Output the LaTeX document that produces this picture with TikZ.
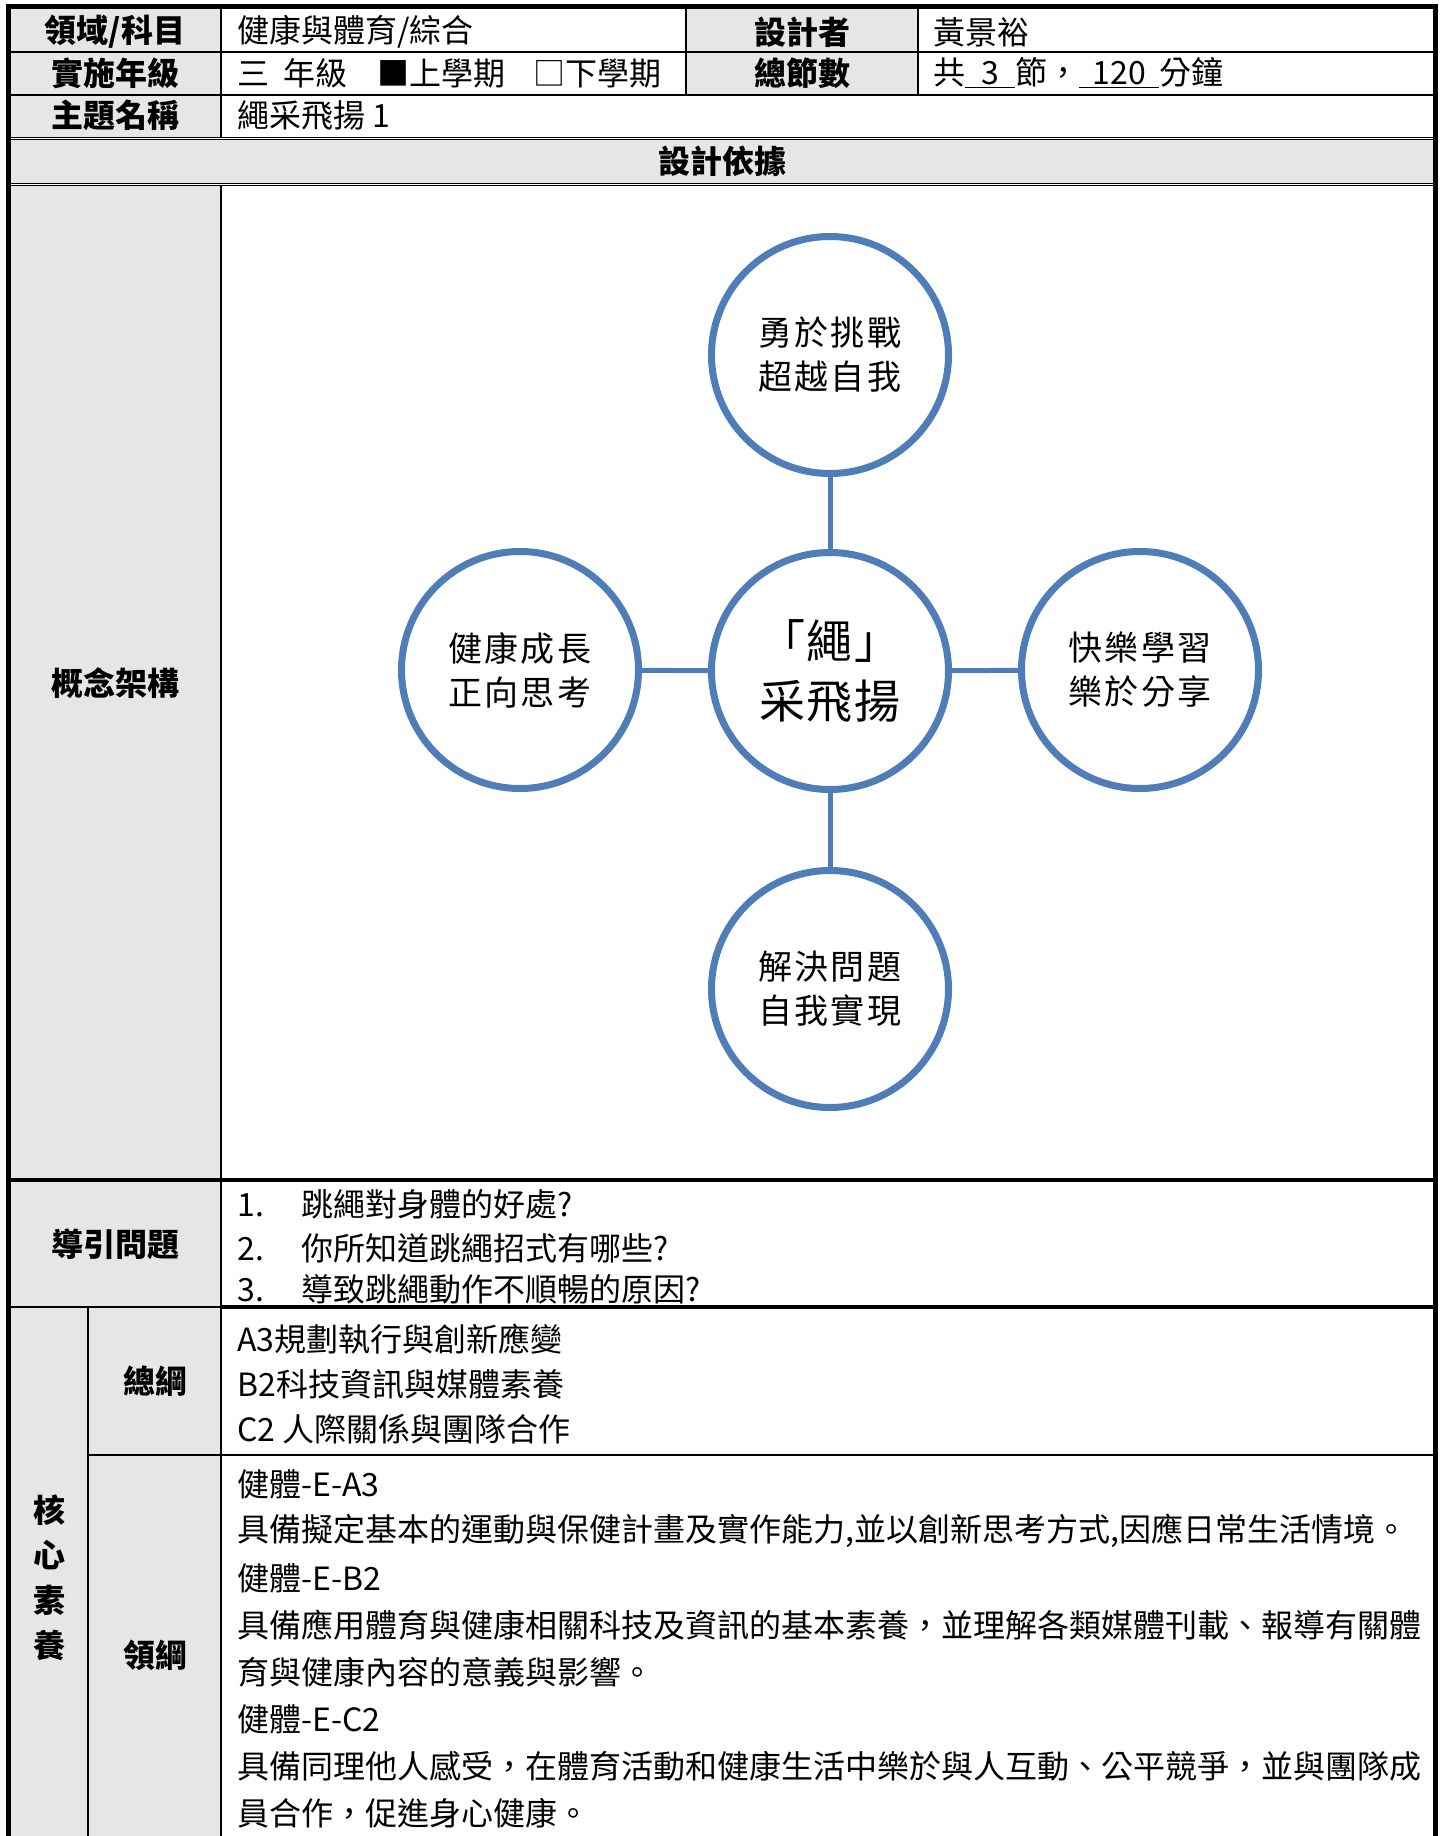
\documentclass[tikz,border=0pt]{standalone}
\usepackage{fontspec}
\setmainfont{Noto Sans CJK TC}
\usetikzlibrary{shadows}
\definecolor{cellgray}{RGB}{230,230,230}
\definecolor{ringblue}{RGB}{79,125,183}
\tikzset{
  lab/.style={font=\fontsize{16}{20}\selectfont\bfseries},
  txt/.style={anchor=west, inner sep=0pt, font=\fontsize{16}{20}\selectfont},
  ring/.style={circle, draw=ringblue, line width=3.5pt, fill=white, minimum size=118.5pt,
    inner sep=0pt, align=center, font=\fontsize{17}{22}\selectfont\addfontfeature{LetterSpace=6},
    drop shadow={shadow xshift=1.2pt, shadow yshift=-1.2pt, opacity=0.18, fill=black}},
  link/.style={draw=ringblue, line width=2.5pt},
  thin/.style={line width=0.75pt},
  thick rule/.style={line width=2.2pt},
}
\begin{document}
\begin{tikzpicture}[x=0.5pt, y=-0.5pt]
\useasboundingbox (0,0) rectangle (1443,1836);

% gray cells
\fill [cellgray] (8.5,6.5) rectangle (221,137);
\fill [cellgray] (686,6.5) rectangle (918,95);
\fill [cellgray] (8.5,139.5) rectangle (1435.5,183);
\fill [cellgray] (8.5,185.5) rectangle (221,1836);

% rules
\draw [thin] (8.5,52) -- (1435.5,52);
\draw [thin] (8.5,95) -- (1435.5,95);
\draw [line width=0.5pt] (8.5,137) -- (1435.5,137);
\draw [line width=0.5pt] (8.5,139.5) -- (1435.5,139.5);
\draw [line width=0.5pt] (8.5,183) -- (1435.5,183);
\draw [line width=0.5pt] (8.5,185.5) -- (1435.5,185.5);
\draw [thick rule] (8.5,1180) -- (1435.5,1180);
\draw [thin] (8.5,1307) -- (221,1307);
\draw [thick rule] (221,1307) -- (1435.5,1307);
\draw [thin] (88,1455) -- (1435.5,1455);
\draw [thin] (221,6.5) -- (221,137);
\draw [thin] (221,185.5) -- (221,1836);
\draw [thin] (686,6.5) -- (686,95);
\draw [thin] (918,6.5) -- (918,95);
\draw [thin] (88,1307) -- (88,1836);
\draw [line width=2.6pt] (8.5,1836) -- (8.5,6.5) -- (1435.5,6.5) -- (1435.5,1836);

% header rows
\node [lab] (subj) at (115,32) {領域/科目};
\node [txt] (subjv) at (237,32) {健康與體育/綜合};
\node [lab] (designer) at (802,32) {設計者};
\node [txt] (designerv) at (933,32) {黃景裕};
\node [lab] (grade) at (115,73) {實施年級};
\node [txt] (gradev) at (237,73) {三\hspace{7pt}年級\hspace{15pt}■上學期\hspace{14pt}□下學期};
\node [lab] (sessions) at (802,73) {總節數};
\node [txt] (sessionsv) at (933,73) {共\underline{\makebox[25pt]{3}}節，\underline{\makebox[40pt]{120}}分鐘};
\node [lab] (theme) at (115,115) {主題名稱};
\node [txt] (themev) at (237,115) {繩采飛揚 1};
\node [lab] (basis) at (722,161) {設計依據};

% concept map
\node [lab] (concept) at (115,683) {概念架構};
\node [ring, font=\fontsize{23}{30}\selectfont\addfontfeature{LetterSpace=4}] (hub) at (830,671) {「繩」\\采飛揚};
\node [ring] (up) at (830,355) {勇於挑戰\\超越自我};
\node [ring] (left) at (520,670) {健康成長\\正向思考};
\node [ring] (right) at (1140,670) {快樂學習\\樂於分享};
\node [ring] (down) at (830,989) {解決問題\\自我實現};
\draw [link] (hub) -- (up);
\draw [link] (hub) -- (left);
\draw [link] (hub) -- (right);
\draw [link] (hub) -- (down);

% guiding questions
\node [lab] (guide) at (115,1244) {導引問題};
\node [txt] (q1) at (237,1204) {\makebox[32pt][l]{1.}跳繩對身體的好處?};
\node [txt] (q2) at (237,1248) {\makebox[32pt][l]{2.}你所知道跳繩招式有哪些?};
\node [txt] (q3) at (237,1289) {\makebox[32pt][l]{3.}導致跳繩動作不順暢的原因?};

% core competencies
\node [lab, align=center, font=\fontsize{16}{22.5}\selectfont\bfseries] (core) at (49,1578) {核\\心\\素\\養};
\node [lab] (general) at (155,1381) {總綱};
\node [txt] (g1) at (237,1339) {A3規劃執行與創新應變};
\node [txt] (g2) at (237,1384) {B2科技資訊與媒體素養};
\node [txt] (g3) at (237,1429) {C2 人際關係與團隊合作};
\node [lab] (domain) at (155,1655) {領綱};
\node [txt] (d1) at (237,1484) {健體-E-A3};
\node [txt] (d2) at (237,1531) {具備擬定基本的運動與保健計畫及實作能力,並以創新思考方式,因應日常生活情境。};
\node [txt] (d3) at (237,1578) {健體-E-B2};
\node [txt] (d4) at (237,1625) {具備應用體育與健康相關科技及資訊的基本素養，並理解各類媒體刊載、報導有關體};
\node [txt] (d5) at (237,1672) {育與健康內容的意義與影響。};
\node [txt] (d6) at (237,1719) {健體-E-C2};
\node [txt] (d7) at (237,1766) {具備同理他人感受，在體育活動和健康生活中樂於與人互動、公平競爭，並與團隊成};
\node [txt] (d8) at (237,1813) {員合作，促進身心健康。};
\end{tikzpicture}
\end{document}
